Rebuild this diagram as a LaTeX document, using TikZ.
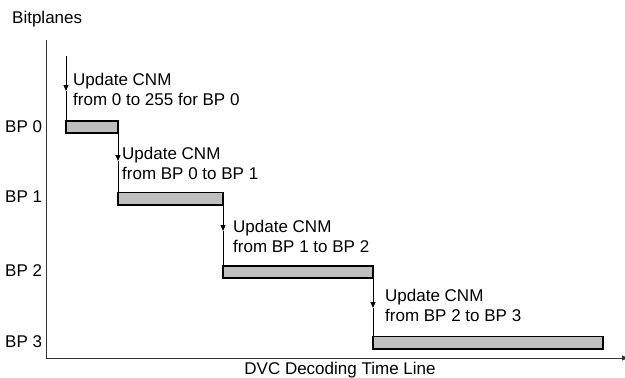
\documentclass[tikz,border=0pt]{standalone}
\usepackage{fontspec}
\setmainfont{Liberation Sans}
\usetikzlibrary{arrows.meta}
\begin{document}
\begin{tikzpicture}[x=1pt,y=-1pt,
  lbl/.style={font=\fontsize{17}{20}\selectfont, inner sep=0pt, anchor=west},
  note/.style={font=\fontsize{17}{20}\selectfont, inner sep=0pt, align=left, anchor=west},
  bar/.style={draw=black, line width=1.2pt, fill=black!25, anchor=north west,
              inner sep=0pt, outer sep=0pt},
  axis/.style={draw=black!80, line width=1pt},
  conn/.style={draw=black, line width=1pt},
  tip/.style={-{Triangle[length=6pt,width=5pt]}}]
  \useasboundingbox (0,0) rectangle (625,378);

  % axes
  \coordinate (ytop) at (46,40);
  \coordinate (origin) at (46,358);
  \coordinate (xend) at (628,358);
  \draw[axis] (ytop) -- (origin);
  \draw[axis, -{Triangle[length=6pt,width=5pt]}] (origin) -- (xend);

  \node[lbl, anchor=base west] (ylab) at (12,23) {Bitplanes};
  \node[lbl, anchor=base] (xlab) at (340,374) {DVC Decoding Time Line};

  % bitplane labels
  \node[lbl] (l0) at (5,127) {BP 0};
  \node[lbl] (l1) at (5,197) {BP 1};
  \node[lbl] (l2) at (5,271) {BP 2};
  \node[lbl] (l3) at (5,342) {BP 3};

  % decoding bars
  \node[bar, minimum width=52pt, minimum height=12pt] (b0) at (66,121) {};
  \node[bar, minimum width=105pt, minimum height=12.5pt] (b1) at (118,192.5) {};
  \node[bar, minimum width=150pt, minimum height=12pt] (b2) at (223,266) {};
  \node[bar, minimum width=230pt, minimum height=12.5pt] (b3) at (373,336.5) {};

  % update arrows
  \coordinate (s0) at (66,56);
  \coordinate (t0) at (66,91);
  \coordinate (t1) at (118,161);
  \coordinate (t2) at (223,231);
  \coordinate (t3) at (373,308);

  \draw[conn, tip] (s0) -- (t0);
  \draw[conn] (t0) -- (b0.north west);
  \draw[conn, tip] (b0.south east) -- (t1);
  \draw[conn] (t1) -- (b1.north west);
  \draw[conn, tip] (b1.south east) -- (t2);
  \draw[conn] (t2) -- (b2.north west);
  \draw[conn, tip] (b2.south east) -- (t3);
  \draw[conn] (t3) -- (b3.north west);

  % update notes
  \node[note] (n0) at (73,89) {Update CNM\\from 0 to 255 for BP 0};
  \node[note] (n1) at (122,163) {Update CNM\\from BP 0 to BP 1};
  \node[note] (n2) at (233,236) {Update CNM\\from BP 1 to BP 2};
  \node[note] (n3) at (385,305) {Update CNM\\from BP 2 to BP 3};
\end{tikzpicture}
\end{document}
